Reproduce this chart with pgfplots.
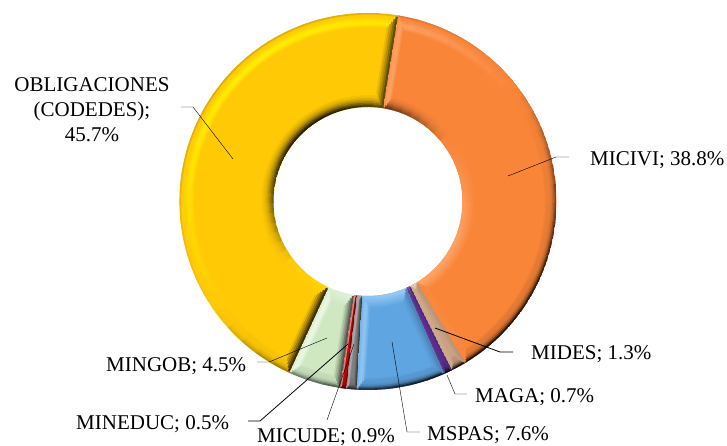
\documentclass[border=0pt]{standalone}
\usepackage{fontspec}
\setmainfont{Liberation Serif}
\usepackage{pgfplots}
\pgfplotsset{compat=1.18}

\definecolor{cOblig}{HTML}{FFC906}
\definecolor{hOblig}{HTML}{FFF000}
\definecolor{cMicivi}{HTML}{F98539}
\definecolor{hMicivi}{HTML}{FFB27A}
\definecolor{cMides}{HTML}{C9A283}
\definecolor{hMides}{HTML}{EBD6C4}
\definecolor{cMaga}{HTML}{5A2D8C}
\definecolor{hMaga}{HTML}{8A66B8}
\definecolor{cMspas}{HTML}{5FA5E2}
\definecolor{hMspas}{HTML}{AEDAFB}
\definecolor{cMicude}{HTML}{7F7F7F}
\definecolor{hMicude}{HTML}{C8C8C8}
\definecolor{cMineduc}{HTML}{C80008}
\definecolor{hMineduc}{HTML}{FFFFFF}
\definecolor{cMingob}{HTML}{CFE8C2}
\definecolor{hMingob}{HTML}{F2FBEC}

% both axes use the pixel coordinates of the reference
\pgfplotsset{
  pixelaxis/.style={
    scale only axis, width=727bp, height=446bp,
    xmin=0, xmax=727, ymin=0, ymax=446, y dir=reverse,
    hide axis, clip=false, no markers},
  /pgfplots/table/wedge/.style={
    row sep=\\,
    x expr={368+\thisrow{r}*sin(\thisrow{t})},
    y expr={201.5-\thisrow{r}*cos(\thisrow{t})}},
}

\newcommand\setshade[3]{%
  \pgfmathsetmacro\v{#1}%
  \ifdim\v pt>0pt
    \pgfmathtruncatemacro\pc{100-100*\v}\colorlet{shc}{#2!\pc!#3}%
  \else
    \pgfmathtruncatemacro\pc{100+85*\v}\colorlet{shc}{#2!\pc!black}%
  \fi}

% bevel of one slice: t1, t2 (clockwise from the top), base, highlight, side width
\newcommand\bevel[5]{%
  \begin{scope}[shift={(368bp,244.5bp)}]
  \clip ({90-#1}:188.5bp) arc[start angle={90-#1},end angle={90-#2},radius=188.5bp]
     -- ({90-#2}:94.5bp) arc[start angle={90-#2},end angle={90-#1},radius=94.5bp] -- cycle;
  \pgfmathtruncatemacro\nseg{ceil((#2-#1)/6)}
  \pgfmathsetmacro\dt{(#2-#1)/\nseg}
  \foreach \k in {1,...,\nseg}{
    \pgfmathsetmacro\aa{90-(#1+(\k-1)*\dt-0.2)}
    \pgfmathsetmacro\ab{90-(#1+\k*\dt+0.2)}
    \pgfmathsetmacro\tm{#1+(\k-0.5)*\dt}
    \pgfmathsetmacro\L{-0.6*sin(\tm)+0.8*cos(\tm)}
    % outer rim
    \foreach \d/\pu/\pd in {14/.15/0,12.5/.5/0,11/.8/.05,9.5/.9/.1,8/.8/.1,6.5/.55/.12,5/.3/.22,3.5/.12/.4,2/.02/.7,.7/-.15/1}{
      \setshade{\L>0 ? \L*\pu : \L*\pd}{#3}{#4}
      \pgfmathsetmacro\rr{188.5-\d}
      \draw[line width=1.8bp,color=shc] (\aa:\rr bp) arc[start angle=\aa,end angle=\ab,radius=\rr bp];
    }
    % inner rim
    \foreach \d/\pu/\pd in {11/.1/.05,9.5/.2/.1,8/.3/.18,6.5/.4/.3,5/.5/.45,3.5/.6/.65,2/.7/.85,.7/.7/1}{
      \setshade{\L>0 ? -\L*\pd : -\L*\pu}{#3}{#4}
      \pgfmathsetmacro\rr{94.5+\d}
      \draw[line width=1.8bp,color=shc] (\aa:\rr bp) arc[start angle=\aa,end angle=\ab,radius=\rr bp];
    }
  }
  % radial sides
  \pgfmathsetmacro\La{0.6*cos(#1)+0.8*sin(#1)}
  \pgfmathsetmacro\Lb{-0.6*cos(#2)-0.8*sin(#2)}
  \foreach \f/\pu/\pd in {.9/.3/.12,.7/.7/.3,.5/.9/.5,.3/.8/.75,.1/.5/1}{
    \pgfmathsetmacro\d{\f*#5}
    \pgfmathsetmacro\ra{94.5+1.6*\d}
    \pgfmathsetmacro\rb{188.5-1.6*\d}
    \setshade{\La>0 ? \La*\pu : \La*\pd}{#3}{#4}
    \draw[line width=.28*#5 bp,color=shc,rotate={90-#1}] (\ra bp,-\d bp) -- (\rb bp,-\d bp);
    \setshade{\Lb>0 ? \Lb*\pu : \Lb*\pd}{#3}{#4}
    \draw[line width=.28*#5 bp,color=shc,rotate={90-#2}] (\ra bp,\d bp) -- (\rb bp,\d bp);
  }
  \end{scope}}

\begin{document}
\begin{tikzpicture}
\useasboundingbox (0,0) rectangle (727bp,446bp);

\begin{axis}[pixelaxis]
% MICIVI 38.8 %
\addplot[fill=cMicivi,draw=none] table[wedge]{
t r\\
9.2 188.5\\ 15 188.5\\ 20 188.5\\ 25 188.5\\ 30 188.5\\ 35 188.5\\ 40 188.5\\ 45 188.5\\ 50 188.5\\ 55 188.5\\
60 188.5\\ 65 188.5\\ 70 188.5\\ 75 188.5\\ 80 188.5\\ 85 188.5\\ 90 188.5\\ 95 188.5\\ 100 188.5\\ 105 188.5\\
110 188.5\\ 115 188.5\\ 120 188.5\\ 125 188.5\\ 130 188.5\\ 135 188.5\\ 140 188.5\\ 145 188.5\\ 148.9 188.5\\
148.9 94.5\\ 145 94.5\\ 140 94.5\\ 135 94.5\\ 130 94.5\\ 125 94.5\\ 120 94.5\\ 115 94.5\\ 110 94.5\\ 105 94.5\\
100 94.5\\ 95 94.5\\ 90 94.5\\ 85 94.5\\ 80 94.5\\ 75 94.5\\ 70 94.5\\ 65 94.5\\ 60 94.5\\ 55 94.5\\
50 94.5\\ 45 94.5\\ 40 94.5\\ 35 94.5\\ 30 94.5\\ 25 94.5\\ 20 94.5\\ 15 94.5\\ 9.2 94.5\\
} -- cycle;
% MIDES 1.3 %
\addplot[fill=cMides,draw=none] table[wedge]{
t r\\
148.9 188.5\\ 151.2 188.5\\ 153.6 188.5\\ 153.6 94.5\\ 151.2 94.5\\ 148.9 94.5\\
} -- cycle;
% MAGA 0.7 %
\addplot[fill=cMaga,draw=none] table[wedge]{
t r\\
153.6 188.5\\ 154.8 188.5\\ 156.1 188.5\\ 156.1 94.5\\ 154.8 94.5\\ 153.6 94.5\\
} -- cycle;
% MSPAS 7.6 %
\addplot[fill=cMspas,draw=none] table[wedge]{
t r\\
156.1 188.5\\ 160 188.5\\ 165 188.5\\ 170 188.5\\ 175 188.5\\ 180 188.5\\ 183.5 188.5\\
183.5 94.5\\ 180 94.5\\ 175 94.5\\ 170 94.5\\ 165 94.5\\ 160 94.5\\ 156.1 94.5\\
} -- cycle;
% MICUDE 0.9 %
\addplot[fill=cMicude,draw=none] table[wedge]{
t r\\
183.5 188.5\\ 185.1 188.5\\ 186.7 188.5\\ 186.7 94.5\\ 185.1 94.5\\ 183.5 94.5\\
} -- cycle;
% MINEDUC 0.5 %
\addplot[fill=cMineduc,draw=none] table[wedge]{
t r\\
186.7 188.5\\ 187.6 188.5\\ 188.5 188.5\\ 188.5 94.5\\ 187.6 94.5\\ 186.7 94.5\\
} -- cycle;
% MINGOB 4.5 %
\addplot[fill=cMingob,draw=none] table[wedge]{
t r\\
188.5 188.5\\ 190 188.5\\ 195 188.5\\ 200 188.5\\ 204.7 188.5\\
204.7 94.5\\ 200 94.5\\ 195 94.5\\ 190 94.5\\ 188.5 94.5\\
} -- cycle;
% OBLIGACIONES 45.7 %
\addplot[fill=cOblig,draw=none] table[wedge]{
t r\\
204.7 188.5\\ 210 188.5\\ 215 188.5\\ 220 188.5\\ 225 188.5\\ 230 188.5\\ 235 188.5\\ 240 188.5\\ 245 188.5\\
250 188.5\\ 255 188.5\\ 260 188.5\\ 265 188.5\\ 270 188.5\\ 275 188.5\\ 280 188.5\\ 285 188.5\\ 290 188.5\\
295 188.5\\ 300 188.5\\ 305 188.5\\ 310 188.5\\ 315 188.5\\ 320 188.5\\ 325 188.5\\ 330 188.5\\ 335 188.5\\
340 188.5\\ 345 188.5\\ 350 188.5\\ 355 188.5\\ 360 188.5\\ 369.2 188.5\\
369.2 94.5\\ 360 94.5\\ 355 94.5\\ 350 94.5\\ 345 94.5\\ 340 94.5\\ 335 94.5\\ 330 94.5\\ 325 94.5\\
320 94.5\\ 315 94.5\\ 310 94.5\\ 305 94.5\\ 300 94.5\\ 295 94.5\\ 290 94.5\\ 285 94.5\\ 280 94.5\\
275 94.5\\ 270 94.5\\ 265 94.5\\ 260 94.5\\ 255 94.5\\ 250 94.5\\ 245 94.5\\ 240 94.5\\ 235 94.5\\
230 94.5\\ 225 94.5\\ 220 94.5\\ 215 94.5\\ 210 94.5\\ 204.7 94.5\\
} -- cycle;
\end{axis}

\bevel{9.2}{148.9}{cMicivi}{hMicivi}{7}
\bevel{148.9}{153.6}{cMides}{hMides}{4.5}
\bevel{153.6}{156.1}{cMaga}{hMaga}{1.6}
\bevel{156.1}{183.5}{cMspas}{hMspas}{8}
\bevel{183.5}{186.7}{cMicude}{hMicude}{3}
\bevel{186.7}{188.5}{cMineduc}{hMineduc}{1.6}
\bevel{188.5}{204.7}{cMingob}{hMingob}{8}
\bevel{204.7}{369.2}{cOblig}{hOblig}{9}

\begin{axis}[pixelaxis,
  cycle list={{black,solid,line width=.8bp,line join=round}},
  nodes={font=\fontsize{21bp}{25bp}\selectfont,inner sep=0pt,text=black}]
\addplot coordinates {(181,107) (193,107) (233,159)};
\addplot coordinates {(569,157) (556,157) (508,176)};
\addplot coordinates {(513,352) (500,352) (435,328)};
\addplot coordinates {(467,394) (455,394) (447,375)};
\addplot coordinates {(420,432) (407,432) (392,342)};
\addplot coordinates {(327,420) (354,344)};
\addplot coordinates {(248,421) (260,421) (348,344)};
\addplot coordinates {(257,362) (269,362) (327,338)};
\node[anchor=base,align=center] at (axis cs:92,141) {OBLIGACIONES\\(CODEDES);\\45.7\%};
\node[anchor=base west] at (axis cs:590,165) {MICIVI; 38.8\%};
\node[anchor=base west] at (axis cs:531,359) {MIDES; 1.3\%};
\node[anchor=base west] at (axis cs:475,402) {MAGA; 0.7\%};
\node[anchor=base west] at (axis cs:427,440) {MSPAS; 7.6\%};
\node[anchor=base west] at (axis cs:257,442.5) {MICUDE; 0.9\%};
\node[anchor=base west] at (axis cs:76,429) {MINEDUC; 0.5\%};
\node[anchor=base west] at (axis cs:106,371) {MINGOB; 4.5\%};
\end{axis}
\end{tikzpicture}
\end{document}
